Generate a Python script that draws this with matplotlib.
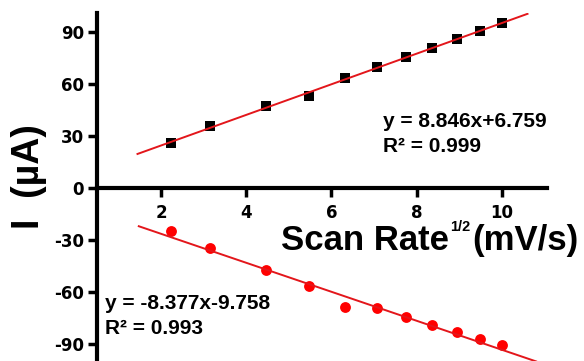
import matplotlib.pyplot as plt

# sqrt of scan rate, (mV/s)^1/2
scan_rate_sqrt = [2.236, 3.162, 4.472, 5.477, 6.325, 7.071, 7.746, 8.367, 8.944, 9.487, 10.0]
# peak currents, uA
anodic_current = [26.0, 35.6, 47.3, 53.3, 63.6, 69.7, 75.8, 80.9, 85.8, 90.6, 95.0]
cathodic_current = [-25.2, -34.8, -47.3, -56.4, -69.0, -69.2, -74.6, -79.0, -83.3, -87.1, -91.0]

# linear fits (slope, intercept, R^2)
anodic_fit = (8.846, 6.759, 0.999)
cathodic_fit = (-8.377, -9.758, 0.993)
anodic_fit_range = (1.45, 10.6)
cathodic_fit_range = (1.48, 10.8)

x_ticks = [2, 4, 6, 8, 10]
y_ticks = [-90, -60, -30, 0, 30, 60, 90]

FONT = "Liberation Sans"
TICK_FONT = "DejaVu Sans"
plt.rcParams["axes.unicode_minus"] = False

fig = plt.figure(figsize=(5.84, 3.61), dpi=100)
ax = fig.add_axes([97 / 584, 0.0, 449.7 / 584, 348 / 361])

ax.plot(scan_rate_sqrt, anodic_current, "s", color="black", markersize=7.2, mew=0, zorder=3)
ax.plot(scan_rate_sqrt, cathodic_current, "o", color="#ff0000", markersize=7.8, mew=0, zorder=3)

for (m, b, _), (x0, x1) in [(anodic_fit, anodic_fit_range), (cathodic_fit, cathodic_fit_range)]:
    ax.plot([x0, x1], [m * x0 + b, m * x1 + b], color="#e3161b", lw=1.4, zorder=4)

ax.set_xlim(0.5, 11.05)
ax.set_ylim(-100, 101)
ax.set_xticks(x_ticks)
ax.set_yticks(y_ticks)

for side in ("top", "right"):
    ax.spines[side].set_visible(False)
ax.spines["bottom"].set_position(("data", 0))
for side in ("left", "bottom"):
    ax.spines[side].set_linewidth(3)
ax.tick_params(direction="out", length=6.5, width=2.5, pad=3)
ax.tick_params(axis="x", pad=5)
for lab in ax.get_xticklabels() + ax.get_yticklabels():
    lab.set_fontfamily(TICK_FONT)
    lab.set_fontweight("bold")
    lab.set_fontsize(12)

# axis titles
fig.text(29 / 584, 1 - 177 / 361, "I  (\u00b5A)", rotation=90, ha="center", va="center",
         fontsize=27, fontweight="bold", family=FONT)

unit = fig.text(578 / 584, 1 - 250 / 361, "(mV/s)", ha="right", va="baseline",
                fontsize=25, fontweight="bold", family=FONT)
sup = ax.annotate("1/2", xy=(0, 1), xycoords=unit, xytext=(-1, 3), textcoords="offset points",
                  ha="right", va="top", fontsize=10.5, fontweight="bold", family=FONT)
ax.annotate("Scan Rate", xy=(0, 0), xycoords=(sup, unit), xytext=(-1, 0), textcoords="offset points",
            ha="right", va="bottom", fontsize=25, fontweight="bold", family=FONT)

# fit equations
for (m, b, r2), (x, y) in [(anodic_fit, (383, 127)), (cathodic_fit, (105, 309))]:
    sign = "+" if b >= 0 else "-"
    fig.text(x / 584, 1 - y / 361, f"y = {m:.3f}x{sign}{abs(b):.3f}", ha="left", va="baseline",
             fontsize=15, fontweight="bold", family=FONT)
    fig.text(x / 584, 1 - (y + 24.5) / 361, f"R\u00b2 = {r2:.3f}", ha="left", va="baseline",
             fontsize=15, fontweight="bold", family=FONT)

fig.savefig("out.png", dpi=100)
